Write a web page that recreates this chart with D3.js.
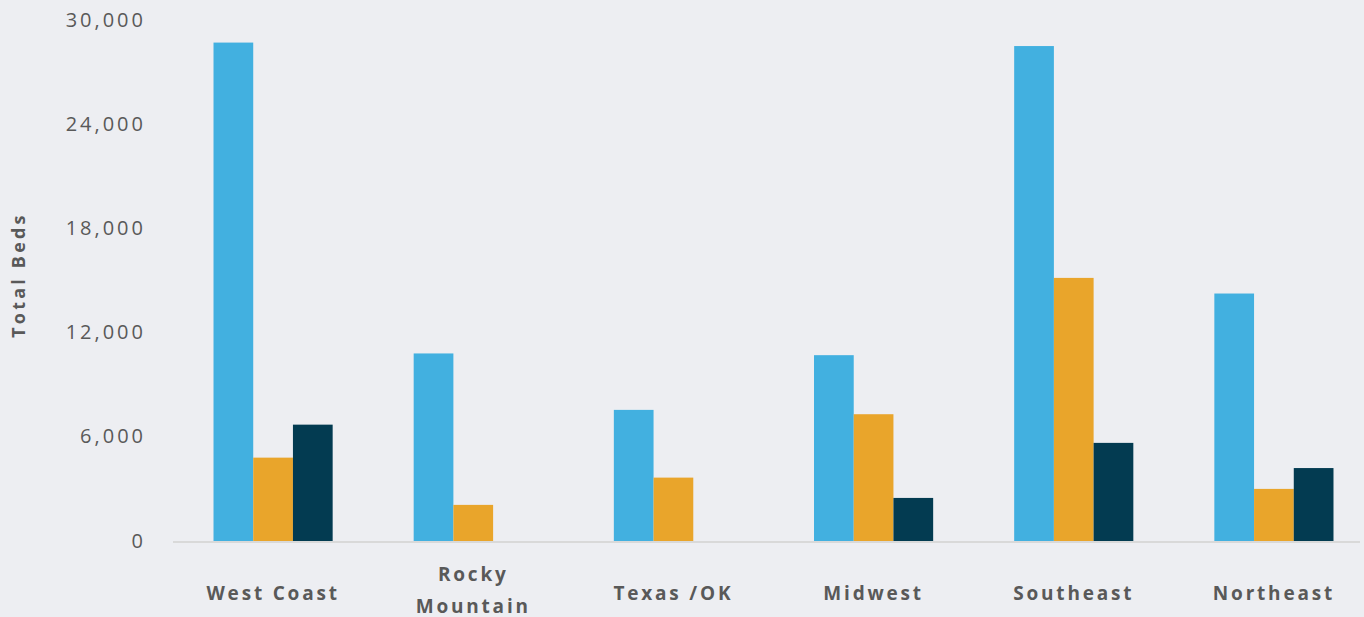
<!DOCTYPE html>
<html><head><meta charset="utf-8">
<script src="https://cdn.jsdelivr.net/npm/d3@7"></script>
<style>
html,body{margin:0;padding:0;background:#edeef2;}
svg{display:block;}
</style></head>
<body>
<svg id="chart" width="1364" height="617"></svg>
<script>
const categories = ["West Coast", "Rocky Mountain", "Texas /OK", "Midwest", "Southeast", "Northeast"];
const seriesNames = ["Series A", "Series B", "Series C"];
const seriesA = [28700, 10800, 7550, 10700, 28500, 14250];
const seriesB = [4800, 2080, 3650, 7300, 15150, 3000];
const seriesC = [6700, 0, 0, 2480, 5650, 4200];
const yTicks = [0, 6000, 12000, 18000, 24000, 30000];
const colors = ["#42b0e0", "#e9a52b", "#033b51"];

const svg = d3.select("#chart");
const x0 = d3.scaleBand().domain(categories).range([173, 1374]).padding(0);
const x1 = d3.scaleBand().domain(seriesNames).range([0, x0.bandwidth()]).paddingInner(0).paddingOuter(1.02);
const y = d3.scaleLinear().domain([0, 30000]).range([541, 20]);

const rows = categories.map((c, i) => ({cat: c, vals: [seriesA[i], seriesB[i], seriesC[i]]}));

// baseline
svg.append("line").attr("x1", 173).attr("x2", 1360).attr("y1", y(0) + 1).attr("y2", y(0) + 1)
  .attr("stroke", "#d9d9d9").attr("stroke-width", 2);

const g = svg.append("g");
rows.forEach(r => {
  r.vals.forEach((v, j) => {
    if (v <= 0) return;
    g.append("rect")
      .attr("x", x0(r.cat) + x1(seriesNames[j]))
      .attr("y", y(v))
      .attr("width", x1.bandwidth())
      .attr("height", y(0) - y(v))
      .attr("fill", colors[j]);
  });
});

// y axis
const yAxis = d3.axisLeft(y).tickValues(yTicks).tickSize(0).tickPadding(0)
  .tickFormat(d3.format(","));
const ya = svg.append("g").attr("transform", "translate(146,0)").call(yAxis);
ya.select(".domain").remove();
ya.selectAll("text").attr("font-family", "Open Sans").attr("font-size", 20)
  .attr("fill", "#595959").attr("letter-spacing", "3px").attr("dy", "0.3em");

// x labels
const xa = svg.append("g");
rows.forEach(r => {
  const cx = x0(r.cat) + x0.bandwidth() / 2;
  const lines = r.cat === "Rocky Mountain" ? ["Rocky", "Mountain"] : [r.cat];
  const ys = lines.length === 2 ? [574, 606] : [593];
  lines.forEach((t, k) => {
    xa.append("text").attr("x", cx).attr("y", ys[k]).attr("dy", "0.35em")
      .attr("text-anchor", "middle").attr("font-family", "Open Sans").attr("font-weight", "bold")
      .attr("font-size", 19).attr("letter-spacing", "2.8px").attr("fill", "#595959").text(t);
  });
});

// y title
svg.append("text").attr("transform", "translate(19,275) rotate(-90)").attr("dy", "0.35em")
  .attr("text-anchor", "middle").attr("font-family", "Open Sans").attr("font-weight", "bold")
  .attr("font-size", 18).attr("letter-spacing", "3.2px").attr("fill", "#595959").text("Total Beds");
</script>
</body></html>
